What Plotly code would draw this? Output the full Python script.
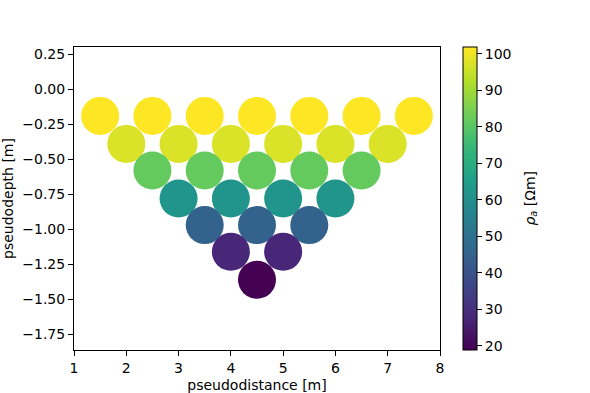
import plotly.graph_objects as go

# Data: pseudosection points (row by row)
x_vals = [1.5, 2.5, 3.5, 4.5, 5.5, 6.5, 7.5,
          2.0, 3.0, 4.0, 5.0, 6.0, 7.0,
          2.5, 3.5, 4.5, 5.5, 6.5,
          3.0, 4.0, 5.0, 6.0,
          3.5, 4.5, 5.5,
          4.0, 5.0,
          4.5]
depth_vals = [-0.19] * 7 + [-0.39] * 6 + [-0.58] * 5 + [-0.78] * 4 + [-0.97] * 3 + [-1.16] * 2 + [-1.36]
rho_vals = [101.9] * 7 + [97.5] * 6 + [82.0] * 5 + [62.0] * 4 + [45.0] * 3 + [28.0] * 2 + [18.9]

y_tickvals = [0.25, 0.0, -0.25, -0.5, -0.75, -1.0, -1.25, -1.5, -1.75]
y_ticktext = ["0.25", "0.00", "\u22120.25", "\u22120.50", "\u22120.75", "\u22121.00",
              "\u22121.25", "\u22121.50", "\u22121.75"]
x_tickvals = [1, 2, 3, 4, 5, 6, 7, 8]
cb_tickvals = [20, 30, 40, 50, 60, 70, 80, 90, 100]

FONT = "DejaVu Sans"
fs = 14

fig = go.Figure(go.Scatter(
    x=x_vals, y=depth_vals, mode="markers",
    marker=dict(size=38, color=rho_vals, colorscale="Viridis",
                cmin=18.9, cmax=101.9, line=dict(width=0),
                colorbar=dict(thickness=14, len=1.0, lenmode="fraction",
                              x=1.063, xanchor="left", y=0.5, yanchor="middle",
                              xpad=0, ypad=0,
                              outlinewidth=1, outlinecolor="black",
                              tickvals=cb_tickvals, ticks="outside", ticklen=5,
                              tickwidth=1, tickcolor="black",
                              tickfont=dict(family=FONT, size=fs, color="black"))),
    showlegend=False,
))

fig.update_layout(
    width=590, height=393,
    margin=dict(l=74, r=150, t=47, b=43, autoexpand=False),
    plot_bgcolor="white", paper_bgcolor="white",
    font=dict(family=FONT, size=fs, color="black"),
    xaxis=dict(range=[1, 8], tickvals=x_tickvals, ticks="outside", ticklen=5,
               tickwidth=1, tickcolor="black", showline=True, linecolor="black",
               linewidth=1, mirror=True, showgrid=False, zeroline=False,
               automargin=False,
               title=dict(text="pseudodistance [m]", standoff=5,
                          font=dict(family=FONT, size=fs))),
    yaxis=dict(range=[-1.862, 0.302], tickvals=y_tickvals, ticktext=y_ticktext,
               ticks="outside", ticklen=5, tickwidth=1, tickcolor="black",
               showline=True, linecolor="black", linewidth=1, mirror=True,
               showgrid=False, zeroline=False, automargin=False,
               title=dict(text="pseudodepth [m]", standoff=5,
                          font=dict(family=FONT, size=fs))),
    annotations=[dict(text="<i>ρ</i><sub><i>a</i></sub> [Ωm]", xref="paper", yref="paper",
                      x=1.246, y=0.5, xanchor="center", yanchor="middle",
                      textangle=-90, showarrow=False,
                      font=dict(family=FONT, size=fs, color="black"))],
)

fig.write_html("out.html", config={"displayModeBar": False},
               post_script="document.body.style.margin='0';document.body.style.padding='0';")
